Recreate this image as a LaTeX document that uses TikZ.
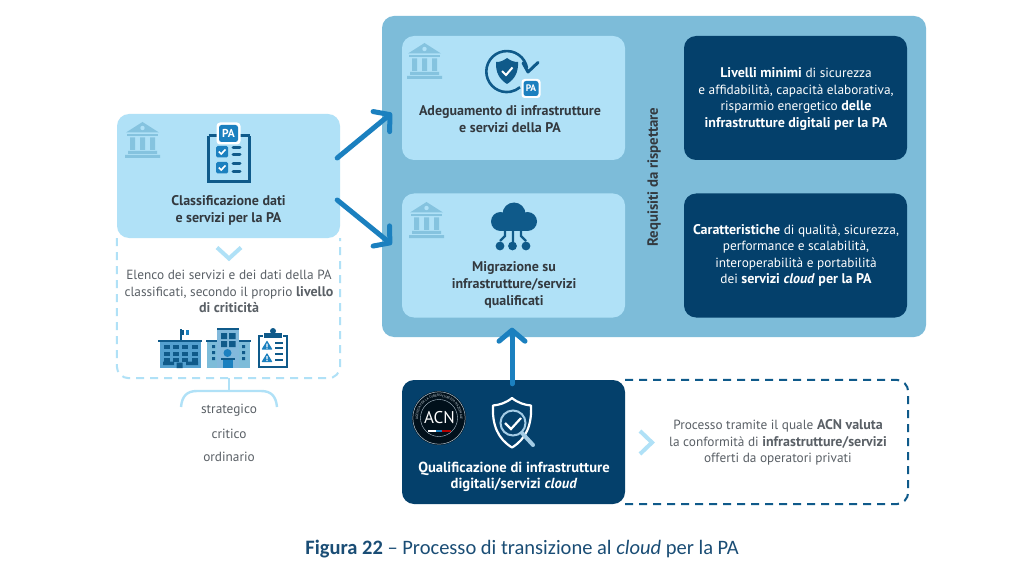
\documentclass[tikz,border=0pt]{standalone}
\usepackage{fontspec}
\setmainfont{PT Sans}
\newfontfamily\capfont{Carlito}
\usetikzlibrary{arrows.meta,calc,decorations.text}
\definecolor{outerblue}{HTML}{7DBCD9}
\definecolor{lightblue}{HTML}{B0E1F7}
\definecolor{navy}{HTML}{04406B}
\definecolor{iconblue}{HTML}{0F5A8A}
\definecolor{midblue}{HTML}{1B80BF}
\definecolor{bankblue}{HTML}{85C3DF}
\definecolor{inkdark}{HTML}{33393F}
\definecolor{inkgrey}{HTML}{5A6066}
\definecolor{capblue}{HTML}{1A4D75}
\newcommand{\strongtxt}[1]{{\fontsize{14}{16.5}\selectfont\bfseries #1}}
\tikzset{
  panel/.style={rounded corners=12pt,inner sep=0pt,draw=none},
  lightbox/.style={panel,fill=lightblue,minimum width=223pt,minimum height=124pt},
  darkbox/.style={panel,fill=navy,minimum width=223pt,minimum height=124pt},
  txt/.style={inner sep=0pt,align=center,font=\fontsize{13.3}{16.5}\selectfont},
  headtxt/.style={txt,text=inkdark,font=\fontsize{14}{17}\selectfont\bfseries},
  greytxt/.style={txt,text=inkgrey},
  whitetxt/.style={txt,text=white},
  bigarrow/.style={draw=midblue,line width=5pt,line cap=round,-{Straight Barb[round,length=11pt,width=26pt]}},
  softdash/.style={draw=lightblue,line width=2pt,dash pattern=on 8pt off 6pt},
  navydash/.style={draw=iconblue,line width=2pt,dash pattern=on 8pt off 6pt},
  chev/.style={draw=lightblue,line width=4pt},
  bank/.pic={
    \fill[bankblue] (17.5,0) -- (34,10.5) -- (1,10.5) -- cycle;
    \fill[lightblue] (17.5,6) circle (2.2);
    \fill[bankblue] (2,12) rectangle (33,14.5);
    \fill[bankblue] (5,15.5) rectangle (10,28) (15,15.5) rectangle (20,28) (25,15.5) rectangle (30,28);
    \fill[bankblue] (3,29) rectangle (32,32) (0,33) rectangle (35,36);
  },
  pabadge/.pic={
    \fill[white,rounded corners=3.5pt] (-12,-11) rectangle (12,11);
    \fill[midblue,rounded corners=2.5pt] (-9.5,-8.5) rectangle (9.5,8.5);
    \node[inner sep=0pt,text=white,font=\fontsize{11.5}{12}\selectfont\bfseries] {PA};
  },
  smallbadge/.pic={
    \fill[white,rounded corners=3pt] (-9.5,-9.5) rectangle (9.5,9.5);
    \fill[midblue,rounded corners=2.5pt] (-7.5,-7.5) rectangle (7.5,7.5);
    \node[inner sep=0pt,text=white,font=\fontsize{9.5}{10}\selectfont\bfseries] {PA};
  },
  tickbox/.pic={
    \fill[midblue,rounded corners=1.5pt] (0,0) rectangle (12,11.5);
    \draw[white,line width=1.6pt] (2.8,5.5) -- (5.2,8) -- (9.5,3.5);
  },
  warn/.pic={
    \fill[midblue,rounded corners=.5pt] (0,-5) -- (5.5,4) -- (-5.5,4) -- cycle;
    \fill[white] (-.6,-2) rectangle (.6,1.4) (-.6,2) rectangle (.6,3.2);
  }
}
\begin{document}
\begin{tikzpicture}[x=1pt,y=-1pt]
\useasboundingbox (0,0) rectangle (1024,569);
\fill[white] (0,0) rectangle (1024,569);

% panels
\node[panel,fill=outerblue,minimum width=544pt,minimum height=321pt] (outer) at (654,176.5) {};
\node[lightbox] (adeg) at (513.5,98) {};
\node[lightbox] (migr) at (513.5,255.5) {};
\node[darkbox] (liv) at (795.5,98) {};
\node[darkbox] (car) at (795.5,255.5) {};
\node[lightbox] (classbox) at (228.5,176) {};
\node[darkbox] (qual) at (513.5,442) {};

% dashed extensions
\draw[softdash,rounded corners=12pt] (classbox.south west) -- ($(classbox.south west)+(0,140)$) -- ($(classbox.south east)+(0,140)$) -- (classbox.south east);
\draw[navydash,rounded corners=12pt] (qual.north east) -- ($(qual.north east)+(283,0)$) -- ($(qual.south east)+(283,0)$) -- (qual.south east);

% arrows
\draw[bigarrow] ($(classbox.east)+(-3,-18)$) -- ($(adeg.west)+(-10,15)$);
\draw[bigarrow] ($(classbox.east)+(-3,24)$) -- ($(migr.west)+(-10,-11)$);
\draw[bigarrow] ($(qual.north)+(-1.5,4)$) -- ($(migr.south)+(-1.5,10)$);

% banks
\pic at (125,122) {bank};
\pic at (407,43) {bank};
\pic at (409,202) {bank};

% clipboard icon
\draw[iconblue,line width=3pt] (208.5,136) -- (208.5,182) -- (249.5,182) -- (249.5,136);
\draw[iconblue,line width=3pt] (208.5,136) -- (218,136) (239,136) -- (249.5,136);
\pic at (216,146) {tickbox};
\pic at (216,162) {tickbox};
\draw[iconblue,line width=3pt,line cap=round] (233,148) -- (240,148) (233,155) -- (240,155) (233,164) -- (240,164) (233,172) -- (240,172);
\pic at (228.5,133.5) {pabadge};

% renewal icon
\draw[iconblue,line width=2.6pt] (527,68) arc[start angle=-10,end angle=-310,radius=20.5];
\draw[iconblue,line width=3pt,line cap=round,line join=round] (523,63) -- (528,72) -- (538,62.5);
\fill[iconblue] (507,58) .. controls (511,61) and (514,62) .. (518,62) .. controls (518.5,72) and (515,79) .. (507,84) .. controls (499,79) and (495.5,72) .. (496,62) .. controls (500,62) and (503,61) .. (507,58) -- cycle;
\draw[white,line width=2pt] (502,71) -- (506,75) -- (512.5,67.5);
\pic at (531,88.5) {smallbadge};

% cloud icon
\fill[iconblue] (514,214) circle (11.5);
\fill[iconblue] (500.5,221.5) circle (9.5);
\fill[iconblue] (527.5,221.5) circle (9.5);
\fill[iconblue] (500.5,219) rectangle (527.5,231);
\draw[iconblue,line width=2.4pt] (505,230) -- (505,236) -- (500,241) (513,230) -- (513,246) (521,230) -- (521,236) -- (526,241);
\fill[iconblue] (500,246) circle (4.4) (512.5,246) circle (4.4) (526,246) circle (4.4);

% building icons
\draw[iconblue,line width=1.2pt] (181,329) -- (181,340);
\fill[iconblue] (181,329.5) rectangle (184,334.5);
\fill[midblue] (186,329.5) rectangle (189,334.5);
\fill[midblue!75!white] (160,341) rectangle (201,368);
\fill[iconblue] (158,339.5) rectangle (202,342);
\foreach \cx in {164,173,182,192}{\foreach \cy in {345,351.5,358}{\fill[iconblue] (\cx,\cy) rectangle ++(5.5,4);}}
\fill[iconblue] (163,361.5) rectangle (174,365) (186,361.5) rectangle (198,365) (176.5,362.5) rectangle (182.5,368);
\fill[outerblue] (207,341) rectangle (250,368);
\fill[iconblue] (206,340) rectangle (251,342);
\fill[midblue!55!white] (217,330) rectangle (239,368);
\fill[iconblue] (217,327.5) rectangle (239,330);
\fill[iconblue] (221,333) rectangle (227,339) (229,333) rectangle (235.5,339) (221,341) rectangle (227,347) (229,341) rectangle (235.5,347);
\fill[iconblue] (212,345) rectangle (215,348) (212,351) rectangle (215,354) (212,357) rectangle (215,360) (242,345) rectangle (245,348) (242,351) rectangle (245,354) (242,357) rectangle (245,360);
\fill[midblue] (227.5,353) circle (4);
\fill[iconblue] (221,357.5) rectangle (235,360);
\fill[midblue] (223,360) rectangle (233,368);
\draw[iconblue,line width=2pt] (263,335.5) -- (259,335.5) -- (259,367) -- (287,367) -- (287,335.5) -- (283,335.5);
\fill[iconblue] (264,333) rectangle (282,337.5);
\fill[iconblue] (273,331) circle (3);
\pic at (267,345.5) {warn};
\pic at (267,358) {warn};
\draw[iconblue,line width=1.6pt] (275,343) -- (283,343) (275,348) -- (283,348) (275,354) -- (283,354) (275,360) -- (283,360);

% ACN seal
\fill[black!75!navy] (439,418) circle (27);
\draw[white!70!navy,line width=.5pt] (439,418) circle (26.2);
\draw[white!70!navy,line width=.4pt] (439,418) circle (18.5);
\path[postaction={decorate,decoration={text along path,text align=center,text color=white!80!navy,text={|\fontsize{3.4}{4}\selectfont|AGENZIA PER LA CYBERSICUREZZA NAZIONALE}}}] (419,424) arc[start angle=163,end angle=377,radius=21];
\node[inner sep=0pt,text=white,font=\fontsize{17}{17}\selectfont] (acn) at (439.5,418) {ACN};
\fill[white] (428,430) rectangle (436,431.5);
\fill[red!70!black] (442,430) rectangle (451,431.5);
\fill[midblue] (436,430) rectangle (442,431.5);

% inspection shield
\draw[white,line width=2.2pt,line join=round] (512,398) .. controls (518,403) and (525,405) .. (531,405.5) .. controls (532,425) and (526,439) .. (512,447.5) .. controls (498,439) and (492,425) .. (493,405.5) .. controls (499,405) and (506,403) .. (512,398) -- cycle;
\draw[white!60!midblue,line width=2pt] (513,423) circle (12.5);
\draw[white!60!midblue,line width=4pt,line cap=round] (522,433) -- (533,445);
\draw[white,line width=2.2pt] (505,423) -- (511,429) -- (521,418);

% chevrons and bracket
\draw[chev] (217,247.5) -- (229,258.5) -- (241,247.5);
\draw[chev] (640,431) -- (652,442.5) -- (640,454);
\coordinate (brtop) at ($(classbox.south)+(0,140)$);
\draw[draw=lightblue,line width=2pt] (brtop) -- ++(0,13);
\draw[draw=lightblue,line width=2.4pt] (181,407) .. controls (182,396) and (187,391) .. (197,391) -- (261,391) .. controls (271,391) and (276,396) .. (277,407);

% texts
\node[headtxt] (t1) at (228.5,210) {Classificazione dati\\e servizi per la PA};
\node[headtxt] (t2) at (510,119) {Adeguamento di infrastrutture\\e servizi della PA};
\node[headtxt] (t3) at (514,284.5) {Migrazione su\\infrastrutture/servizi\\qualificati};
\node[whitetxt,font=\fontsize{14.6}{16.5}\selectfont\bfseries] (t4) at (514,477) {Qualificazione di infrastrutture\\digitali/servizi \textit{cloud}};
\node[whitetxt] (t5) at (796,99) {\strongtxt{Livelli minimi} di sicurezza\\e affidabilità, capacità elaborativa,\\risparmio energetico \strongtxt{delle}\\\strongtxt{infrastrutture digitali per la PA}};
\node[whitetxt] (t6) at (796,255.5) {\strongtxt{Caratteristiche} di qualità, sicurezza,\\performance e scalabilità,\\interoperabilità e portabilità\\dei \strongtxt{servizi \textit{cloud} per la PA}};
\node[headtxt,rotate=90,font=\fontsize{14.8}{17}\selectfont\bfseries] (t7) at (654,177) {Requisiti da rispettare};
\node[greytxt] (t8) at (229,291.5) {Elenco dei servizi e dei dati della PA\\classificati, secondo il proprio \strongtxt{livello}\\\strongtxt{di criticità}};
\node[greytxt] (t9) at (229,410) {strategico};
\node[greytxt] (t10) at (229,434) {critico};
\node[greytxt] (t11) at (229,457) {ordinario};
\node[greytxt] (t12) at (778,442.5) {Processo tramite il quale \strongtxt{ACN valuta}\\la conformità di \strongtxt{infrastrutture/servizi}\\offerti da operatori privati};
\node[inner sep=0pt,text=capblue,font=\capfont\fontsize{20.5}{22}\selectfont] (cap) at (522,549) {\textbf{Figura 22} – Processo di transizione al \textit{cloud} per la PA};
\end{tikzpicture}
\end{document}
